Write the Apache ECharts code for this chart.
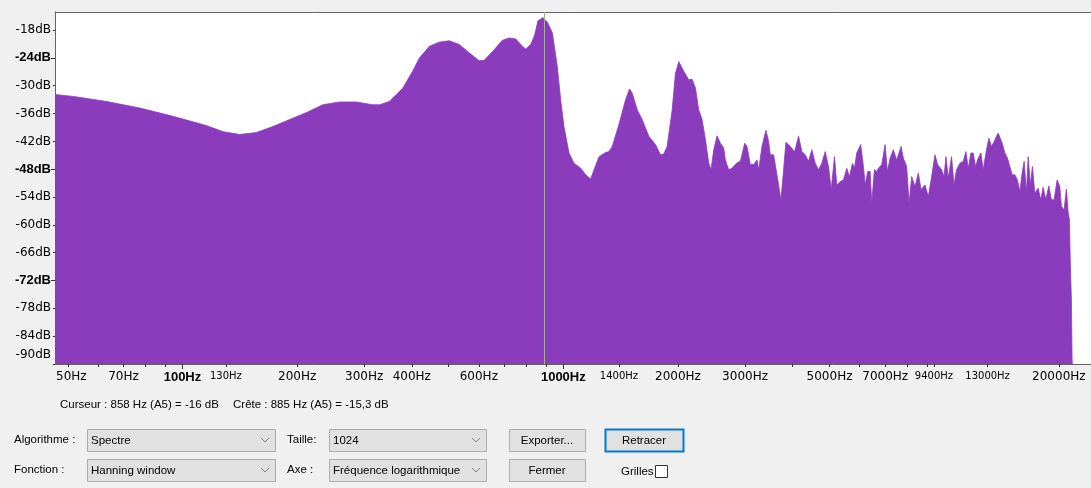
<!DOCTYPE html>
<html>
<head>
<meta charset="utf-8">
<script src="https://cdn.jsdelivr.net/npm/echarts@6/dist/echarts.min.js"></script>
<style>
  html, body { margin: 0; padding: 0; background: #f0f0f0; }
  #chart { width: 1091px; height: 488px; }
</style>
</head>
<body>
<div id="chart"></div>
<script>
// Spectrum: frequency (Hz) and level (dB)
const freqHz = [
  46.3, 51.7, 63.2, 77.3, 94.5, 115.6, 127.8, 141.3, 156.3, 172.7,
  191.1, 211.3, 233.6, 258.4, 285.8, 315.9, 329, 349, 379, 402,
  419, 445, 472, 502, 533, 566, 601, 620, 652, 692,
  721, 750, 781, 797, 821, 840, 858, 885, 908, 936,
  964, 984, 1004, 1035, 1067, 1111, 1145, 1180, 1204, 1241,
  1291, 1318, 1344, 1399, 1457, 1492, 1517, 1563, 1611, 1677,
  1747, 1800, 1836, 1873, 1931, 1970, 2010, 2072, 2135, 2178,
  2223, 2267, 2314, 2362, 2409, 2442, 2483, 2533, 2585, 2637,
  2664, 2718, 2773, 2858, 2917, 2994, 3036, 3098, 3161, 3225,
  3258, 3323, 3404, 3460, 3495, 3566, 3638, 3727, 3788, 3841,
  3944, 4048, 4147, 4230, 4317, 4405, 4493, 4586, 4678, 4772,
  4871, 4969, 5051, 5152, 5224, 5332, 5440, 5549, 5640, 5744,
  5813, 5894, 6037, 6137, 6202, 6299, 6391, 6453, 6558, 6651,
  6719, 6855, 6997, 7094, 7211, 7355, 7504, 7705, 7812, 7970,
  8087, 8215, 8385, 8553, 8694, 8906, 9085, 9268, 9460, 9610,
  9845, 9988, 10110, 10250, 10457, 10610, 10777, 11000, 11222, 11404,
  11565, 11753, 11919, 12085, 12284, 12485, 12661, 12915, 13104, 13311,
  13530, 13719, 13862, 14003, 14201, 14432, 14660, 14874, 15082, 15330,
  15572, 15800, 16021, 16217, 16442, 16613, 16843, 17049, 17296, 17645,
  17936, 18187, 18487, 18823, 19124, 19435, 19792, 20118, 20314, 20645,
  20937, 21150, 21316, 21449, 21578, 21668, 21700
];
const levelDb = [
  -31.9, -32.3, -33.4, -34.8, -36.6, -38.6, -39.9, -40.5, -40.1, -38.8,
  -37.3, -35.8, -34.1, -33.5, -33.5, -34.1, -34.1, -33.4, -30.5, -26.9,
  -24.0, -21.5, -20.6, -20.3, -21.1, -22.9, -24.6, -24.5, -22.6, -20.2,
  -19.7, -19.9, -21.5, -22.1, -21.1, -19.2, -16.0, -15.3, -16.3, -18.6,
  -25.8, -33.0, -38.8, -44.5, -46.7, -47.8, -49.2, -50.1, -48.1, -45.3,
  -44.4, -44.2, -43.1, -38.4, -33.0, -30.7, -31.6, -35.2, -37.3, -40.9,
  -42.7, -44.9, -44.7, -43.1, -35.2, -27.3, -24.8, -26.9, -28.7, -28.6,
  -30.5, -35.2, -37.3, -41.7, -46.7, -48.1, -43.8, -40.8, -42.4, -43.4,
  -46.0, -48.1, -47.8, -46.6, -46.3, -42.4, -43.1, -47.0, -47.0, -46.0,
  -48.1, -43.1, -39.6, -42.0, -44.9, -44.9, -49.2, -54.6, -48.1, -42.2,
  -43.1, -44.2, -40.9, -44.2, -44.9, -46.3, -43.8, -46.7, -48.1, -46.7,
  -44.2, -47.4, -52.4, -45.3, -51.4, -50.7, -50.3, -47.8, -49.6, -46.7,
  -47.8, -44.5, -42.7, -47.4, -51.4, -48.5, -48.5, -55.3, -48.1, -48.5,
  -47.8, -47.0, -42.7, -48.5, -45.6, -43.8, -46.0, -43.1, -45.6, -47.4,
  -55.3, -49.6, -51.7, -48.8, -52.4, -51.4, -53.9, -49.6, -44.9, -47.0,
  -48.1, -49.6, -45.3, -49.9, -45.3, -51.4, -48.1, -46.7, -46.3, -44.2,
  -47.8, -44.5, -44.5, -47.4, -45.6, -44.5, -48.1, -43.8, -41.3, -43.1,
  -42.0, -40.9, -40.2, -40.1, -42.4, -44.5, -45.6, -47.4, -49.2, -49.2,
  -50.3, -52.8, -48.8, -46.3, -53.2, -45.3, -51.4, -47.4, -53.2, -52.1,
  -54.6, -51.9, -54.6, -51.6, -54.6, -54.6, -50.3, -51.7, -56.0, -56.8,
  -52.3, -57.1, -58.9, -69.0, -76.2, -89.1, -90
];

// Axis ticks and labels
const xTickHz = [50, 60, 70, 80, 90, 100, 130, 200, 300, 400, 500, 600, 700, 800, 900,
                 1000, 1400, 2000, 3000, 4000, 5000, 6000, 7000, 8000, 9000, 9400, 13000, 20000];
const xMajorHz = [100, 1000];
const xLabelHz = [50, 70, 100, 130, 200, 300, 400, 600, 1000, 1400, 2000, 3000, 5000, 7000, 9400, 13000, 20000];
const xSmallHz = [130, 1400, 9400, 13000];
const yTickDb = [-90, -84, -78, -72, -66, -60, -54, -48, -42, -36, -30, -24, -18];
const yMajorDb = [-72, -48, -24];

// Cursor and peak readout
const cursorHz = 858, cursorDb = -16;
const peakHz = 885, peakDb = -15.3;

const PURPLE = '#8b3cbc';
const UI_FONT = '"Liberation Sans", Arial, sans-serif';
const lg = Math.log10;

const chart = echarts.init(document.getElementById('chart'), null, { renderer: 'canvas' });

const xMin = 1.66535, xMax = 4.38548;

function xLabel(v) {
  const hz = Math.round(Math.pow(10, v));
  const t = hz + 'Hz';
  if (xMajorHz.includes(hz)) return '{b|' + t + '}';
  if (xSmallHz.includes(hz)) return '{s|' + t + '}';
  if (hz === xLabelHz[0]) return '{f|' + t + '}';
  return '{n|' + t + '}';
}
function yLabel(v) {
  const t = v + 'dB';
  if (v === yTickDb[0]) return '{low|' + t + '}';
  if (yMajorDb.includes(v)) return '{b|' + t + '}';
  return '{n|' + t + '}';
}

// UI widgets below the plot
function box(x, y, w, h, stroke, lw) {
  return { type: 'rect', silent: true, shape: { x: x + 0.5, y: y + 0.5, width: w, height: h },
           style: { fill: '#e1e1e1', stroke: stroke || '#adadad', lineWidth: lw || 1 } };
}
function label(x, y, text, align) {
  return { type: 'text', silent: true,
           style: { x: x, y: y, text: text, font: '11.5px ' + UI_FONT, fill: '#000',
                    align: align || 'left', verticalAlign: 'middle',
                    textAlign: align || 'left', textVerticalAlign: 'middle' } };
}
function chevron(cx, cy) {
  return { type: 'polyline', silent: true,
           shape: { points: [[cx - 4, cy - 2], [cx, cy + 2], [cx + 4, cy - 2]] },
           style: { stroke: '#808080', lineWidth: 1, fill: null } };
}
function combo(x, y, w, h, text) {
  return [box(x, y, w, h), label(x + 4, y + h / 2 + 1, text), chevron(x + w - 10, y + h / 2)];
}
function button(x, y, w, h, text, stroke, lw) {
  return [box(x, y, w, h, stroke, lw), label(x + w / 2, y + h / 2 + 1, text, 'center')];
}

const fmtDb = d => String(d).replace('.', ',');

const graphics = [].concat(
  [label(60, 405, 'Curseur : ' + cursorHz + ' Hz (A5) = ' + fmtDb(cursorDb) + ' dB'),
   label(233, 405, 'Crête : ' + peakHz + ' Hz (A5) = ' + fmtDb(peakDb) + ' dB'),
   label(14, 440, 'Algorithme :'),
   label(14, 470, 'Fonction :'),
   label(287, 440, 'Taille:'),
   label(287, 470, 'Axe :')],
  combo(87, 429, 188, 22, 'Spectre'),
  combo(87, 459, 188, 22, 'Hanning window'),
  combo(329, 429, 157, 22, '1024'),
  combo(329, 459, 157, 22, 'Fréquence logarithmique'),
  button(509, 429, 76, 22, 'Exporter...'),
  button(509, 459, 76, 22, 'Fermer'),
  button(605, 429, 78, 22, 'Retracer', '#0078d7', 2),
  [label(621, 472, 'Grilles'),
   { type: 'rect', silent: true, shape: { x: 655.5, y: 465.5, width: 12, height: 12 },
     style: { fill: '#fff', stroke: '#333', lineWidth: 1 } }]
);

const option = {
  animation: false,
  backgroundColor: '#f0f0f0',
  grid: { left: 55, top: 12, right: -2, bottom: 124, show: true, backgroundColor: '#fff', borderWidth: 0 },
  xAxis: [
    {
      type: 'value', min: xMin, max: xMax, position: 'bottom',
      axisLine: { show: true, onZero: false, lineStyle: { color: '#646464', width: 1 } },
      axisTick: { show: true, customValues: xTickHz.map(lg), length: 3, lineStyle: { color: '#333' } },
      splitLine: { show: false },
      axisLabel: {
        customValues: xLabelHz.map(lg), margin: 7, color: '#000', formatter: xLabel,
        rich: {
          n: { fontFamily: 'DejaVu Sans', fontSize: 12, color: '#000' },
          f: { fontFamily: 'DejaVu Sans', fontSize: 12, color: '#000', padding: [0, 0, 0, 7] },
          s: { fontFamily: 'DejaVu Sans', fontSize: 10, color: '#000' },
          b: { fontFamily: 'Liberation Sans', fontSize: 13, fontWeight: 'bold', color: '#000' }
        }
      }
    },
    {
      type: 'value', min: xMin, max: xMax, position: 'bottom',
      axisLine: { show: false },
      axisTick: { show: true, customValues: xMajorHz.map(lg), length: 5, lineStyle: { color: '#333' } },
      axisLabel: { show: false }, splitLine: { show: false }
    },
    {
      type: 'value', min: xMin, max: xMax, position: 'top',
      axisLine: { show: true, onZero: false, lineStyle: { color: '#646464', width: 1 } },
      axisTick: { show: false }, axisLabel: { show: false }, splitLine: { show: false }
    }
  ],
  yAxis: [
    {
      type: 'value', min: -90, max: -14.1, position: 'left',
      axisLine: { show: true, onZero: false, lineStyle: { color: '#646464', width: 1 } },
      axisTick: { show: true, customValues: yTickDb, length: 2, lineStyle: { color: '#333' } },
      splitLine: { show: false },
      axisLabel: {
        customValues: yTickDb, margin: 4, formatter: yLabel,
        rich: {
          n: { fontFamily: 'DejaVu Sans', fontSize: 12, color: '#000' },
          b: { fontFamily: 'Liberation Sans', fontSize: 13, fontWeight: 'bold', color: '#000' },
          low: { fontFamily: 'DejaVu Sans', fontSize: 12, color: '#000', padding: [0, 0, 18, 0] }
        }
      }
    },
    {
      type: 'value', min: -90, max: -14.1, position: 'left',
      axisLine: { show: false },
      axisTick: { show: true, customValues: yMajorDb, length: 4, lineStyle: { color: '#333' } },
      axisLabel: { show: false }, splitLine: { show: false }
    }
  ],
  series: [
    {
      type: 'line',
      xAxisIndex: 0, yAxisIndex: 0,
      data: freqHz.map((f, i) => [lg(f), levelDb[i]]),
      showSymbol: false, symbol: 'none', smooth: false, clip: true,
      lineStyle: { color: PURPLE, width: 0.8 },
      areaStyle: { color: PURPLE, opacity: 1, origin: 'start' },
      markLine: {
        silent: true, symbol: 'none', animation: false,
        label: { show: false },
        lineStyle: { color: '#a3ad93', width: 1, type: 'solid' },
        data: [{ xAxis: lg(peakHz) }]
      }
    }
  ],
  graphic: graphics
};

chart.setOption(option);
</script>
</body>
</html>
